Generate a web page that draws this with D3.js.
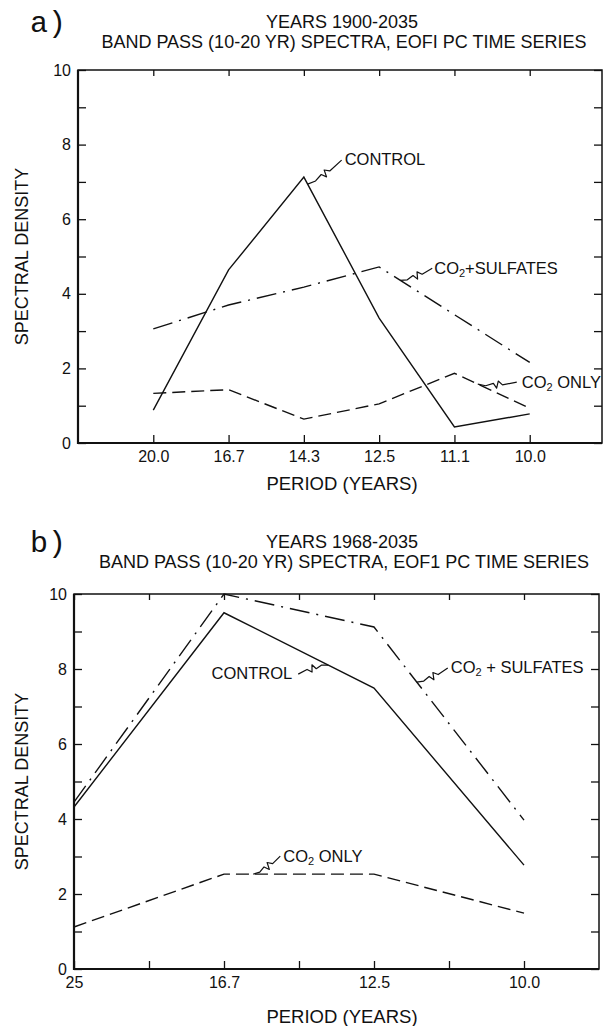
<!DOCTYPE html>
<meta charset="utf-8">
<style>
  body { margin: 0; background: #fff; }
  svg { font-family: "Liberation Sans", Arial, sans-serif; }
  .tick line { stroke: #111; stroke-width: 1.3; }
  .tick text { fill: #111; font-size: 16px; }
</style>
<body>
<script src="https://d3js.org/d3.v7.min.js"></script>
<script>

// panel a) years 1900-2035
var topPeriods = ["20.0", "16.7", "14.3", "12.5", "11.1", "10.0"];
var topControl = [0.88, 4.64, 7.13, 3.35, 0.43, 0.78];
var topSulfates = [3.06, 3.70, 4.18, 4.72, 3.44, 2.16];
var topCo2Only = [1.33, 1.43, 0.64, 1.05, 1.87, 0.93];

// panel b) years 1968-2035
var botTicks = ["25", "", "16.7", "", "12.5", "", "10.0"];
var botPeriods = ["25", "16.7", "12.5", "10.0"];
var botControl = [4.32, 9.5, 7.49, 2.77];
var botSulfates = [4.45, 10.0, 9.12, 3.97];
var botCo2Only = [1.12, 2.53, 2.53, 1.49];

var yTicks = [0, 2, 4, 6, 8, 10];

var svg = d3.select("body").append("svg")
    .attr("width", 603)
    .attr("height", 1026);

function leader(g, x0, y0, x1, y1) {
  // thin curved leader with the little zig-zag of the original figure
  var dx = x1 - x0, dy = y1 - y0, len = Math.sqrt(dx * dx + dy * dy);
  var ux = dx / len, uy = dy / len, nx = -uy, ny = ux;
  var ax = x0 + ux * len * 0.4, ay = y0 + uy * len * 0.4;
  var pts = [
    [x0, y0],
    [x0 + ux * len * 0.2 + nx * 2, y0 + uy * len * 0.2 + ny * 2],
    [ax, ay],
    [ax + ux * 3 + nx * 5, ay + uy * 3 + ny * 5],
    [ax + ux * 5 - nx * 2, ay + uy * 5 - ny * 2],
    [ax + ux * 9 + nx * 2, ay + uy * 9 + ny * 2],
    [x1, y1]
  ];
  g.append("path")
      .attr("d", d3.line()(pts))
      .attr("fill", "none")
      .attr("stroke", "#111")
      .attr("stroke-width", 1.2)
      .attr("stroke-linejoin", "round");
}

function co2Label(g, x, y, rest, anchor) {
  var t = g.append("text")
      .attr("x", x)
      .attr("y", y)
      .attr("font-size", 16.5)
      .attr("fill", "#111")
      .attr("text-anchor", anchor || "start");
  t.append("tspan").text("CO");
  t.append("tspan").attr("font-size", 11).attr("dy", 3).text("2");
  t.append("tspan").attr("dy", -3).text(rest);
  return t;
}

function panel(o) {
  var g = svg.append("g");
  var x = d3.scaleLinear().domain(o.xDomain).range(o.xRange);
  var y = d3.scaleLinear().domain([0, 10]).range(o.yRange);
  var x0 = o.xRange[0], x1 = o.xRange[1], y0 = o.yRange[0], y1 = o.yRange[1];

  g.append("g")
      .attr("transform", "translate(" + x0 + ",0)")
      .call(d3.axisLeft(y).tickValues(d3.range(0, 11)).tickSize(-8).tickPadding(7)
        .tickFormat(function(d) { return yTicks.indexOf(d) >= 0 ? d : ""; }))
      .call(function(a) { a.select(".domain").remove(); });

  g.append("g")
      .attr("transform", "translate(" + x1 + ",0)")
      .call(d3.axisRight(y).tickValues(d3.range(0, 11)).tickSize(-8).tickFormat(""))
      .call(function(a) { a.select(".domain").remove(); });

  g.append("g")
      .attr("transform", "translate(0," + y0 + ")")
      .call(d3.axisBottom(x).tickValues(o.xTicks).tickSize(-8).tickPadding(8)
        .tickFormat(function(i) { return o.xLabels[i]; }))
      .call(function(a) { a.select(".domain").remove(); });

  g.append("g")
      .attr("transform", "translate(0," + y1 + ")")
      .call(d3.axisTop(x).tickValues(o.xTicks).tickSize(-6).tickFormat(""))
      .call(function(a) { a.select(".domain").remove(); });

  // frame
  g.append("rect")
      .attr("x", x0).attr("y", y1)
      .attr("width", x1 - x0).attr("height", y0 - y1)
      .attr("fill", "none").attr("stroke", "#111").attr("stroke-width", 1.5);
  g.append("path")
      .attr("d", "M" + x0 + "," + y1 + "V" + y0 + "H" + x1)
      .attr("fill", "none").attr("stroke", "#111").attr("stroke-width", 2.2);

  var line = d3.line()
      .x(function(d, i) { return x(o.xIndex(i)); })
      .y(function(d) { return y(d); });

  o.series.forEach(function(s) {
    g.append("path")
        .datum(s.values)
        .attr("d", line)
        .attr("fill", "none")
        .attr("stroke", "#111")
        .attr("stroke-width", 1.4)
        .attr("stroke-dasharray", s.dash);
  });

  // where a leader meets a series line
  function at(s, xi) {
    var idx = s.values.map(function(d, i) { return o.xIndex(i); });
    var k = d3.bisectLeft(idx, xi);
    k = Math.max(1, Math.min(k, idx.length - 1));
    var t = (xi - idx[k - 1]) / (idx[k] - idx[k - 1]);
    return [x(xi), y(s.values[k - 1] + t * (s.values[k] - s.values[k - 1]))];
  }

  o.notes.forEach(function(n) {
    var p = at(o.series[n.series], n.at);
    leader(g, p[0], p[1], p[0] + n.dx, p[1] + n.dy);
    var tx = p[0] + n.dx + n.tx, ty = p[1] + n.dy + n.ty;
    if (n.co2) co2Label(g, tx, ty, n.text, n.anchor);
    else g.append("text").attr("x", tx).attr("y", ty)
        .attr("font-size", 16.5).attr("fill", "#111")
        .attr("text-anchor", n.anchor || "start").text(n.text);
  });

  // titles
  g.append("text").attr("x", 30).attr("y", o.titleY - 16)
      .attr("font-family", "'Liberation Mono', 'Courier New', monospace")
      .attr("font-size", 30).attr("fill", "#111").text(o.tag);
  g.append("text").attr("x", 342).attr("y", o.titleY - 20)
      .attr("text-anchor", "middle").attr("font-size", 18).attr("fill", "#111")
      .text(o.title1);
  g.append("text").attr("x", 344).attr("y", o.titleY)
      .attr("text-anchor", "middle").attr("font-size", 18).attr("fill", "#111")
      .text("BAND PASS (10-20 YR) SPECTRA, " + o.eof + " PC TIME SERIES");

  g.append("text")
      .attr("transform", "translate(22," + (y0 + y1) / 2 + ")rotate(-90)")
      .attr("text-anchor", "middle").attr("dominant-baseline", "central")
      .attr("font-size", 18).attr("fill", "#111")
      .text("SPECTRAL DENSITY");
  g.append("text")
      .attr("x", 342).attr("y", y0 + o.xLabelGap)
      .attr("text-anchor", "middle").attr("font-size", 18.5).attr("fill", "#111")
      .text("PERIOD (YEARS)");
}

var solid = null, dashed = "13,6", dashDot = "20,7,2,7";

panel({
  tag: "a)", title1: "YEARS 1900-2035", eof: "EOFI", titleY: 48,
  xDomain: [-1, 5.96], xRange: [78, 602], yRange: [443, 70],
  xTicks: d3.range(0, topPeriods.length), xLabels: topPeriods,
  xIndex: function(i) { return i; }, xLabelGap: 47,
  series: [
    {values: topControl, dash: solid},
    {values: topSulfates, dash: dashDot},
    {values: topCo2Only, dash: dashed}
  ],
  notes: [
    {series: 0, at: 2.05, dx: 34, dy: -24, tx: 3, ty: 5, text: "CONTROL"},
    {series: 1, at: 3.28, dx: 32, dy: -12, tx: 2, ty: 6, text: "+SULFATES", co2: true},
    {series: 2, at: 4.31, dx: 39, dy: -2, tx: 5, ty: 6, text: " ONLY", co2: true}
  ]
});

panel({
  tag: "b)", title1: "YEARS 1968-2035", eof: "EOF1", titleY: 568,
  xDomain: [0, 7], xRange: [74, 599], yRange: [969, 594],
  xTicks: d3.range(0, botTicks.length), xLabels: botTicks,
  xIndex: function(i) { return botTicks.indexOf(botPeriods[i]); }, xLabelGap: 54,
  series: [
    {values: botControl, dash: solid},
    {values: botSulfates, dash: dashDot},
    {values: botCo2Only, dash: dashed}
  ],
  notes: [
    {series: 0, at: 3.39, dx: -30, dy: 9, tx: -6, ty: 5, text: "CONTROL", anchor: "end"},
    {series: 1, at: 4.57, dx: 31, dy: -14, tx: 3, ty: 5, text: " + SULFATES", co2: true},
    {series: 2, at: 2.39, dx: 27, dy: -18, tx: 3, ty: 6, text: " ONLY", co2: true}
  ]
});

</script>
</body>
